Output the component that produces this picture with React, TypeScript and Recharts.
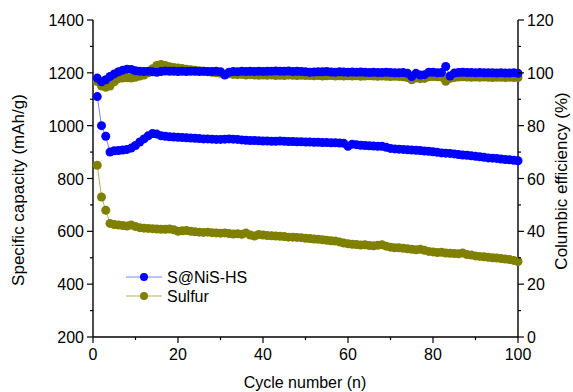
import React from "react";
import { ComposedChart, Line, XAxis, YAxis } from "recharts";

// cycle index (x values)
const cycles = [
  1, 2, 3, 4, 5, 6, 7, 8, 9, 10,
  11, 12, 13, 14, 15, 16, 17, 18, 19, 20,
  21, 22, 23, 24, 25, 26, 27, 28, 29, 30,
  31, 32, 33, 34, 35, 36, 37, 38, 39, 40,
  41, 42, 43, 44, 45, 46, 47, 48, 49, 50,
  51, 52, 53, 54, 55, 56, 57, 58, 59, 60,
  61, 62, 63, 64, 65, 66, 67, 68, 69, 70,
  71, 72, 73, 74, 75, 76, 77, 78, 79, 80,
  81, 82, 83, 84, 85, 86, 87, 88, 89, 90,
  91, 92, 93, 94, 95, 96, 97, 98, 99, 100,
];

// specific capacity, mAh/g
const nisCapacity = [
  1110, 1000, 960, 900, 905, 906, 908, 910, 915, 925,
  938, 950, 962, 970, 968, 962, 960, 958, 957, 956,
  955, 954, 953, 952, 951, 950, 950, 949, 948, 948,
  949, 950, 949, 948, 946, 945, 944, 944, 943, 942,
  942, 941, 941, 942, 941, 940, 940, 939, 939, 938,
  938, 937, 937, 936, 936, 935, 935, 934, 933, 922,
  930, 928, 926, 925, 924, 923, 922, 922, 918, 914,
  912, 911, 910, 909, 908, 907, 906, 904, 903, 901,
  899, 897, 896, 895, 893, 891, 889, 888, 886, 884,
  882, 880, 878, 877, 876, 874, 872, 871, 869, 867,
];

const sulfurCapacity = [
  850, 730, 680, 630, 626, 624, 622, 620, 624, 618,
  614, 612, 611, 610, 609, 608, 608, 609, 606, 600,
  602, 603, 600, 598, 597, 596, 597, 595, 594, 593,
  594, 592, 590, 591, 589, 594, 586, 582, 588, 586,
  584, 583, 582, 581, 580, 578, 578, 577, 576, 574,
  573, 571, 570, 568, 566, 564, 563, 560, 556, 553,
  551, 550, 548, 549, 546, 545, 547, 549, 544, 540,
  538, 538, 536, 534, 532, 530, 532, 528, 524, 522,
  520, 521, 518, 517, 516, 515, 518, 512, 510, 507,
  505, 504, 502, 500, 499, 497, 495, 493, 490, 486,
];

// columbic efficiency, %
const nisEfficiency = [
  98, 96.6, 97.4, 98.6, 99.6, 100.4, 101, 101.4, 101.3, 100.8,
  100.6, 100.5, 100.6, 100.4, 100.2, 100.5, 100.7, 100.6, 100.6, 100.5,
  100.6, 100.5, 100.6, 100.6, 100.5, 100.6, 100.5, 100.5, 100.6, 100.4,
  99.2, 100.2, 100.5, 100.4, 100.6, 100.5, 100.6, 100.5, 100.6, 100.5,
  100.6, 100.6, 100.7, 100.6, 100.6, 100.7, 100.5, 100.6, 100.5, 100.4,
  100.2, 100.3, 100.4, 100.4, 100.5, 100.3, 100.2, 100.4, 100.3, 100.2,
  100.3, 100.2, 100.3, 100.2, 100.1, 100.2, 100.1, 100.1, 100.2, 100.1,
  100, 100, 100.1, 99.8, 98.6, 99.8, 99.2, 99.3, 100.2, 100.2,
  100, 100.1, 102.4, 98.8, 99.9, 100.1, 100.2, 100.1, 100.1, 100,
  100.1, 100, 100, 100, 99.9, 100, 99.9, 99.9, 100, 99.8,
];

const sulfurEfficiency = [
  96.7, 95, 94.5, 95, 96.6, 97.8, 98, 98.1, 98, 98.3,
  98.8, 99.2, 100, 101.5, 102.8, 103.2, 102.8, 102.3, 102, 101.8,
  101.6, 101.4, 101.2, 101, 100.8, 100.6, 100.4, 100.2, 100, 99.8,
  99.5, 99.6, 99.4, 99.3, 99.4, 99.2, 99.3, 99.2, 99.1, 99.2,
  99.1, 99.2, 99, 99.1, 99, 99.2, 99.1, 99, 99.1, 99,
  99, 98.9, 99, 98.8, 98.9, 99, 98.8, 98.9, 98.8, 98.9,
  98.8, 98.9, 98.7, 98.8, 98.9, 98.8, 98.7, 98.8, 98.7, 98.6,
  98.7, 98.6, 98.5, 98.2, 97.4, 98, 97.8, 97.9, 98.5, 98.6,
  98.5, 98.4, 96.8, 97.9, 98.2, 98.4, 98.5, 98.4, 98.3, 98.4,
  98.3, 98.4, 98.3, 98.2, 98.3, 98.3, 98.2, 98.3, 98.2, 98.2,
];

const xTicks = [0, 10, 20, 30, 40, 50, 60, 70, 80, 90, 100];
const capacityTicks = [200, 300, 400, 500, 600, 700, 800, 900, 1000, 1100, 1200, 1300, 1400];
const efficiencyTicks = [0, 10, 20, 30, 40, 50, 60, 70, 80, 90, 100, 110, 120];

const seriesNames = ["S@NiS-HS", "Sulfur"];

const data = cycles.map((c, i) => ({
  cycle: c,
  nisCap: nisCapacity[i],
  sCap: sulfurCapacity[i],
  nisCE: nisEfficiency[i],
  sCE: sulfurEfficiency[i],
}));

const BLUE = "#0000ff";
const BLUE_LINE = "#8080ff";
const OLIVE = "#808000";
const OLIVE_LINE = "#b0b060";
const FONT = "Arial, 'Liberation Sans', sans-serif";

const BottomTick = (props: any) => {
  const { x, y, payload } = props;
  const major = payload.value % 20 === 0;
  return (
    <g>
      <line x1={x} x2={x} y1={y} y2={y + (major ? 6 : 3)} stroke="#000" strokeWidth={1.2} />
      {major && (
        <text x={x} y={y + 23} textAnchor="middle" fontSize={16} fontFamily={FONT} fill="#000">
          {payload.value}
        </text>
      )}
    </g>
  );
};

const LeftTick = (props: any) => {
  const { x, y, payload } = props;
  const major = payload.value % 200 === 0;
  return (
    <g>
      <line x1={x - (major ? 6 : 3)} x2={x} y1={y} y2={y} stroke="#000" strokeWidth={1.2} />
      {major && (
        <text x={x - 9} y={y + 6} textAnchor="end" fontSize={16} fontFamily={FONT} fill="#000">
          {payload.value}
        </text>
      )}
    </g>
  );
};

const RightTick = (props: any) => {
  const { x, y, payload } = props;
  const major = payload.value % 20 === 0;
  return (
    <g>
      <line x1={x} x2={x + (major ? 6 : 3)} y1={y} y2={y} stroke="#000" strokeWidth={1.2} />
      {major && (
        <text x={x + 9} y={y + 6} textAnchor="start" fontSize={16} fontFamily={FONT} fill="#000">
          {payload.value}
        </text>
      )}
    </g>
  );
};

export default function App() {
  return (
    <div style={{ position: "absolute", left: 0, top: 0, width: 573, height: 392, background: "#fff" }}>
      <ComposedChart
        width={573}
        height={392}
        data={data}
        margin={{ top: 20, right: 0, bottom: 0, left: 0 }}
      >
        <XAxis
          dataKey="cycle"
          type="number"
          domain={[0, 100]}
          ticks={xTicks}
          interval={0}
          height={55}
          tickSize={0}
          tickMargin={0}
          tickLine={false}
          tick={(p: any) => <BottomTick {...p} />}
          axisLine={{ stroke: "#000", strokeWidth: 1.4 }}
        />
        <XAxis
          xAxisId="top"
          dataKey="cycle"
          type="number"
          domain={[0, 100]}
          orientation="top"
          height={0}
          tick={false}
          tickLine={false}
          axisLine={{ stroke: "#000", strokeWidth: 1.4 }}
        />
        <YAxis
          yAxisId="left"
          domain={[200, 1400]}
          ticks={capacityTicks}
          interval={0}
          width={93}
          tickSize={0}
          tickMargin={0}
          tickLine={false}
          tick={(p: any) => <LeftTick {...p} />}
          axisLine={{ stroke: "#000", strokeWidth: 1.4 }}
        />
        <YAxis
          yAxisId="right"
          orientation="right"
          domain={[0, 120]}
          ticks={efficiencyTicks}
          interval={0}
          width={55}
          tickSize={0}
          tickMargin={0}
          tickLine={false}
          tick={(p: any) => <RightTick {...p} />}
          axisLine={{ stroke: "#000", strokeWidth: 1.4 }}
        />
        <Line
          yAxisId="left"
          dataKey="sCap"
          name={seriesNames[1]}
          type="linear"
          stroke={OLIVE_LINE}
          strokeWidth={1}
          dot={{ r: 4.5, fill: OLIVE, stroke: "none" }}
          isAnimationActive={false}
        />
        <Line
          yAxisId="left"
          dataKey="nisCap"
          name={seriesNames[0]}
          type="linear"
          stroke={BLUE_LINE}
          strokeWidth={1}
          dot={{ r: 4.5, fill: BLUE, stroke: "none" }}
          isAnimationActive={false}
        />
        <Line
          yAxisId="right"
          dataKey="sCE"
          type="linear"
          stroke={OLIVE_LINE}
          strokeWidth={1}
          dot={{ r: 4.5, fill: OLIVE, stroke: "none" }}
          isAnimationActive={false}
        />
        <Line
          yAxisId="right"
          dataKey="nisCE"
          type="linear"
          stroke={BLUE_LINE}
          strokeWidth={1}
          dot={{ r: 4.5, fill: BLUE, stroke: "none" }}
          isAnimationActive={false}
        />
      </ComposedChart>
      <svg
        width={573}
        height={392}
        style={{ position: "absolute", left: 0, top: 0, pointerEvents: "none" }}
        fontFamily={FONT}
      >
        <text transform="translate(24,190) rotate(-90)" textAnchor="middle" fontSize={17} fill="#000">
          Specific capacity (mAh/g)
        </text>
        <text transform="translate(567,181) rotate(-90)" textAnchor="middle" fontSize={17} fill="#000">
          Columbic efficiency (%)
        </text>
        <text x={305} y={388} textAnchor="middle" fontSize={16} fill="#000">
          Cycle number (n)
        </text>
        <g>
          <line x1={126} x2={162} y1={277} y2={277} stroke={BLUE_LINE} strokeWidth={1} />
          <circle cx={144} cy={277} r={4} fill={BLUE} />
          <text x={167} y={283} fontSize={16} fill="#000">{seriesNames[0]}</text>
          <line x1={126} x2={162} y1={296} y2={296} stroke={OLIVE_LINE} strokeWidth={1} />
          <circle cx={144} cy={296} r={4} fill={OLIVE} />
          <text x={167} y={302} fontSize={16} fill="#000">{seriesNames[1]}</text>
        </g>
      </svg>
    </div>
  );
}
